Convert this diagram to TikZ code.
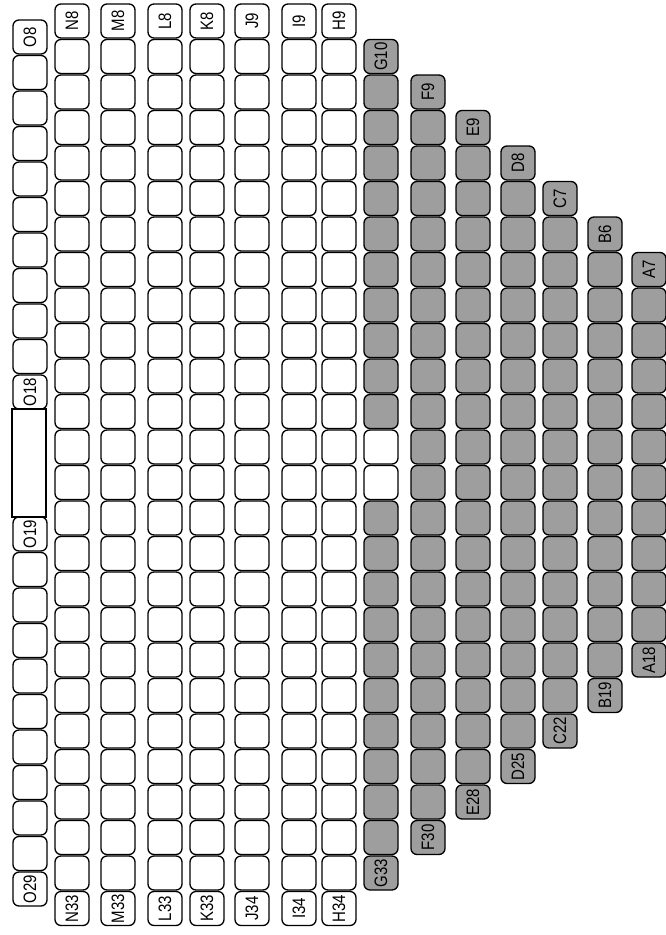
\documentclass[tikz,border=0pt]{standalone}
\usepackage{graphicx}
\usepackage{fontspec}
\setmainfont{Liberation Sans}
\tikzset{
  seat/.style={draw=black, line width=1.3pt, rounded corners=6pt,
    minimum width=34pt, minimum height=34pt, inner sep=0pt, outer sep=0pt,
    font=\fontsize{15}{15}\selectfont},
  gapbox/.style={draw=black, line width=1.3pt, fill=white,
    minimum width=34pt, minimum height=108pt, inner sep=0pt, outer sep=0pt},
}
\newcommand{\rlab}[1]{\rotatebox{90}{\scalebox{1}[1.2]{#1}}}
\begin{document}
\begin{tikzpicture}[x=1pt, y=1pt]
\useasboundingbox (0,0) rectangle (665,-935);
\fill[white] (0,0) rectangle (665,-935);
% column O (half-row offset, with a blank section)
\foreach \k in {0,...,24}{
  \ifnum\k<11
    \pgfmathtruncatemacro{\num}{8+\k}
  \else
    \pgfmathtruncatemacro{\num}{5+\k}
  \fi
  \pgfmathsetmacro{\yy}{-(37+35.5*\k)}
  \edef\lab{}
  \ifnum\num=8 \edef\lab{O\num}\fi
  \ifnum\num=18 \edef\lab{O\num}\fi
  \ifnum\num=19 \edef\lab{O\num}\fi
  \ifnum\num=29 \edef\lab{O\num}\fi
  \ifnum\k<11
    \node[seat, fill=white] (O\num) at (30,\yy) {\rlab{\lab}};
  \else\ifnum\k>13
    \node[seat, fill=white] (O\num) at (30,\yy) {\rlab{\lab}};
  \fi\fi
}
\node[gapbox] (Ogap) at (29,-463) {};
% remaining columns
\foreach \L/\x/\s/\f/\n/\c/\wa/\wb in {
  N/72/0/8/26/0/0/0, M/118/0/8/26/0/0/0, L/165/0/8/26/0/0/0,
  K/207/0/8/26/0/0/0, J/252/0/9/26/0/0/0, I/299/0/9/26/0/0/0,
  H/339/0/9/26/0/0/0, G/381/1/10/24/1/21/22, F/428/2/9/22/1/0/0,
  E/473/3/9/20/1/0/0, D/518/4/8/18/1/0/0, C/560/5/7/16/1/0/0,
  B/605/6/6/14/1/0/0, A/649/7/7/12/1/0/0}{
  \pgfmathtruncatemacro{\last}{\f+\n-1}
  \foreach \num in {\f,...,\last}{
    \pgfmathsetmacro{\yy}{-(21+35.5*(\s+\num-\f))}
    \pgfmathtruncatemacro{\isgray}{\c*(1-equal(\num,\wa))*(1-equal(\num,\wb))}
    \ifnum\isgray=1 \def\fc{black!38}\else\def\fc{white}\fi
    \edef\lab{}
    \ifnum\num=\f \edef\lab{\L\num}\fi
    \ifnum\num=\last \edef\lab{\L\num}\fi
    \node[seat, fill=\fc] (\L\num) at (\x,\yy) {\rlab{\lab}};
  }
}
\end{tikzpicture}
\end{document}
